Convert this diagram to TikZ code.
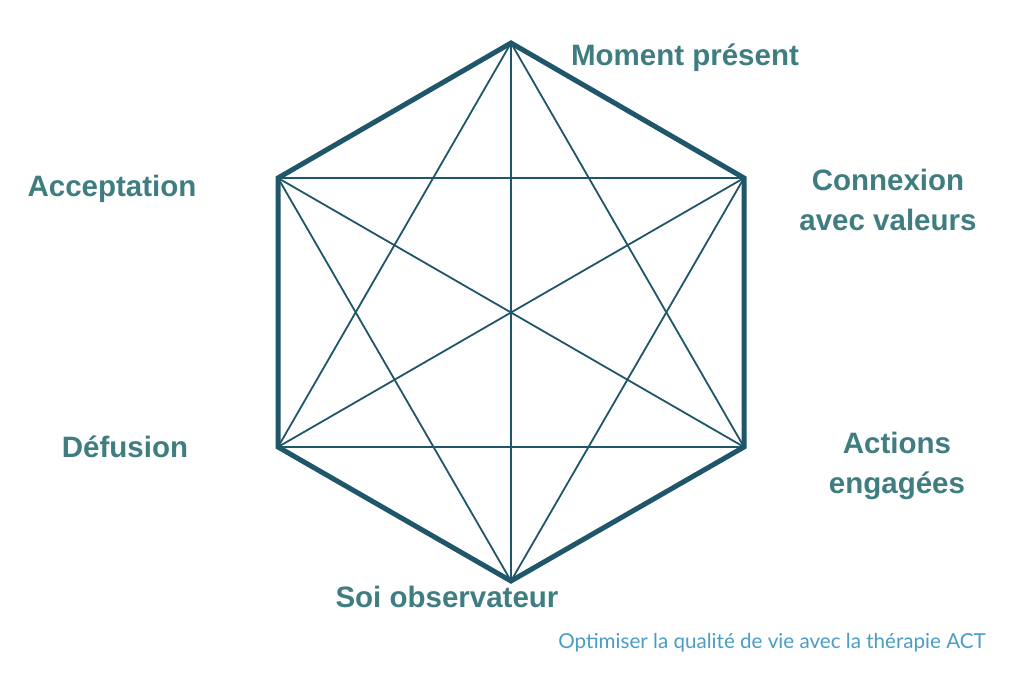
\documentclass[tikz,border=0pt]{standalone}
\usepackage{fontspec}
\setmainfont{Liberation Sans}
\newfontfamily\capfont{Lato}
\usepackage{xcolor}
\definecolor{hexblue}{HTML}{1F5669}
\definecolor{labteal}{HTML}{3F7D81}
\definecolor{capblue}{HTML}{4A9DC5}
\tikzset{
  rim/.style={draw=hexblue, line width=5pt, line join=miter}, % outer border
  link/.style={draw=hexblue, line width=1.8pt}, % inner lines
  lbl/.style={text=labteal, font=\fontsize{29.5}{40}\selectfont\bfseries, align=center, anchor=base},
  caption/.style={text=capblue, font=\capfont\fontsize{20.6}{24}\selectfont, anchor=base}
}
\begin{document}
\begin{tikzpicture}[x=1pt, y=-1pt]
  \useasboundingbox[fill=white] (0,0) rectangle (1024,674);

  % Corners
  \coordinate (top) at (511,43);
  \coordinate (ur) at (744,178);
  \coordinate (lr) at (744,447);
  \coordinate (bot) at (511,581);
  \coordinate (ll) at (278,447);
  \coordinate (ul) at (278,178);

  % Diagonals
  \foreach \a/\b in {top/bot, ul/ur, ll/lr, ul/lr, ur/ll, top/ll, top/lr, bot/ul, bot/ur}
    \path[link] (\a) -- (\b);

  % Hexagon
  \path[rim] (top) -- (ur) -- (lr) -- (bot) -- (ll) -- (ul) -- cycle;

  % Labels
  \node[lbl] (moment) at (685,66) {Moment présent};
  \node[lbl] (accept) at (112,196) {Acceptation};
  \node[lbl] (values) at (888,230) {Connexion\\avec valeurs};
  \node[lbl] (defus) at (125,457) {Défusion};
  \node[lbl] (action) at (897,493) {Actions\\engagées};
  \node[lbl] (self) at (447,607) {Soi observateur};
  \node[caption] (title) at (772,648) {Optimiser la qualité de vie avec la thérapie ACT};
\end{tikzpicture}
\end{document}
